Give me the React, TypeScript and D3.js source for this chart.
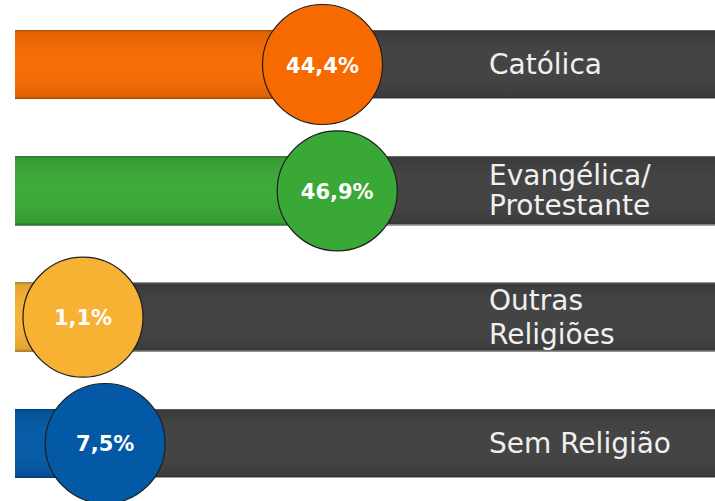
import React from "react";
import * as d3 from "d3";

const categories: string[][] = [["Católica"], ["Evangélica/", "Protestante"], ["Outras", "Religiões"], ["Sem Religião"]];
const values: number[] = [44.4, 46.9, 1.1, 7.5];
const valueLabels: string[] = ["44,4%", "46,9%", "1,1%", "7,5%"];
const colors: string[] = ["#F76A00", "#3AA836", "#F7B233", "#0359A6"];
const lineGaps: number[] = [30, 30, 34, 30];

const W = 715;
const H = 501;

export default function App() {
  const left = 15;
  const right = W;
  const r = 60;

  const y = d3.scaleBand<number>().domain(d3.range(categories.length)).range([30, 478]).paddingInner(0.4537).paddingOuter(0);
  const bandH = y.bandwidth();
  const x = d3.scaleLinear().domain([0, 100]).range([61, 650]);
  const minCx = left + r + 8;

  return (
    <svg width={W} height={H} style={{ position: "absolute", left: 0, top: 0, display: "block" }}>
      <defs>
        <linearGradient id="shade" x1="0" y1="0" x2="0" y2="1">
          <stop offset="0" stopColor="#000" stopOpacity={0.3} />
          <stop offset="0.03" stopColor="#000" stopOpacity={0.08} />
          <stop offset="0.5" stopColor="#fff" stopOpacity={0.02} />
          <stop offset="0.96" stopColor="#000" stopOpacity={0.08} />
          <stop offset="1" stopColor="#000" stopOpacity={0.35} />
        </linearGradient>
      </defs>
      {values.map((v, i) => {
        const y0 = y(i)!;
        const h = bandH;
        const cx = Math.max(x(v), minCx);
        return (
          <g key={"bar" + i}>
            <rect x={left} y={y0} width={right - left} height={h} fill="#404040" />
            <rect x={left} y={y0} width={right - left} height={h} fill="url(#shade)" />
            <line x1={left} x2={right} y1={y0 + h - 0.5} y2={y0 + h - 0.5} stroke="#a0a0a0" strokeWidth={1.2} />
            <line x1={left} x2={right} y1={y0 + 0.5} y2={y0 + 0.5} stroke="#606060" strokeWidth={1} />
            <rect x={left} y={y0} width={cx - left} height={h} fill={colors[i]} />
            <rect x={left} y={y0} width={cx - left} height={h} fill="url(#shade)" />
            {categories[i].map((line, j) => (
              <text
                key={j}
                x={489}
                y={y0 + h / 2 + 9.5 + (j - (categories[i].length - 1) / 2) * lineGaps[i]}
                fill="#f0f0f0"
                fontFamily="'DejaVu Sans', sans-serif"
                fontSize={28}
              >
                {line}
              </text>
            ))}
          </g>
        );
      })}
      {values.map((v, i) => {
        const cy = y(i)! + bandH / 2;
        const cx = Math.max(x(v), minCx);
        return (
          <g key={"c" + i}>
            <circle cx={cx} cy={cy} r={r} fill={colors[i]} stroke="#1e1e1e" strokeWidth={1.2} />
            <text
              x={cx}
              y={cy + 8}
              textAnchor="middle"
              fill="#ffffff"
              fontFamily="'DejaVu Sans', sans-serif"
              fontWeight="bold"
              fontSize={21}
            >
              {valueLabels[i]}
            </text>
          </g>
        );
      })}
    </svg>
  );
}
